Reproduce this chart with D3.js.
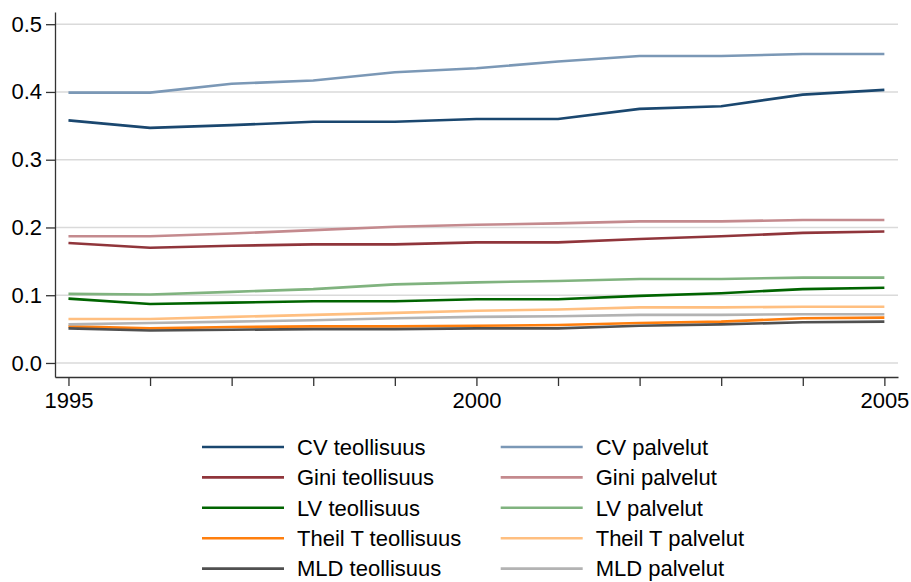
<!DOCTYPE html>
<html>
<head>
<meta charset="utf-8">
<script src="https://cdn.jsdelivr.net/npm/d3@7"></script>
<style>
  body { margin: 0; background: #fff; }
  text { font-family: "Liberation Sans", Arial, sans-serif; fill: #000; }
</style>
</head>
<body>
<div id="chart"></div>
<script>
// data
var years = [1995, 1996, 1997, 1998, 1999, 2000, 2001, 2002, 2003, 2004, 2005];
var yTicks = [0, 0.1, 0.2, 0.3, 0.4, 0.5];
var xLabelYears = [1995, 2000, 2005];

var cvTeollisuus = [0.358, 0.347, 0.351, 0.356, 0.356, 0.360, 0.360, 0.375, 0.379, 0.396, 0.403];
var cvPalvelut = [0.399, 0.399, 0.412, 0.417, 0.429, 0.435, 0.445, 0.453, 0.453, 0.456, 0.456];
var giniTeollisuus = [0.177, 0.170, 0.173, 0.175, 0.175, 0.178, 0.178, 0.183, 0.187, 0.192, 0.194];
var giniPalvelut = [0.187, 0.187, 0.191, 0.196, 0.201, 0.204, 0.206, 0.209, 0.209, 0.211, 0.211];
var lvTeollisuus = [0.095, 0.087, 0.089, 0.091, 0.091, 0.094, 0.094, 0.099, 0.103, 0.109, 0.111];
var lvPalvelut = [0.102, 0.101, 0.105, 0.109, 0.116, 0.119, 0.121, 0.124, 0.124, 0.126, 0.126];
var theilTeollisuus = [0.054, 0.051, 0.053, 0.054, 0.054, 0.055, 0.056, 0.059, 0.061, 0.066, 0.067];
var theilPalvelut = [0.065, 0.065, 0.068, 0.071, 0.074, 0.077, 0.079, 0.082, 0.082, 0.083, 0.083];
var mldTeollisuus = [0.051, 0.048, 0.049, 0.050, 0.050, 0.051, 0.051, 0.055, 0.057, 0.060, 0.061];
var mldPalvelut = [0.057, 0.059, 0.061, 0.063, 0.066, 0.068, 0.069, 0.071, 0.071, 0.072, 0.072];

var seriesNames = ["CV teollisuus", "CV palvelut", "Gini teollisuus", "Gini palvelut",
    "LV teollisuus", "LV palvelut", "Theil T teollisuus", "Theil T palvelut",
    "MLD teollisuus", "MLD palvelut"];
var seriesValues = [cvTeollisuus, cvPalvelut, giniTeollisuus, giniPalvelut,
    lvTeollisuus, lvPalvelut, theilTeollisuus, theilPalvelut, mldTeollisuus, mldPalvelut];
var seriesColors = ["#1a476f", "#7b98b6", "#90353b", "#c48a8e", "#006400", "#80b37f",
    "#ff7f0e", "#ffbf80", "#505050", "#b3b3b3"];

var width = 911, height = 582,
    fontSize = 22;

var svg = d3.select("#chart").append("svg")
    .attr("width", width)
    .attr("height", height);

// plot region is 55..898 x 12..377
var x = d3.scaleLinear().domain([1994.835, 2005.167]).range([55, 898]);
var y = d3.scaleLinear().domain([-0.0207, 0.518]).range([377, 12]);

// gridlines
svg.append("g").selectAll("line")
    .data(yTicks)
    .enter().append("line")
        .attr("x1", 55)
        .attr("x2", 898)
        .attr("y1", function(d) { return y(d); })
        .attr("y2", function(d) { return y(d); })
        .attr("stroke", "#dadada")
        .attr("stroke-width", 1.5);

var yAxis = svg.append("g")
    .attr("transform", "translate(55,0)")
    .call(d3.axisLeft(y).tickValues(yTicks).tickSize(9).tickPadding(4).tickSizeOuter(0)
        .tickFormat(d3.format(".1f")));

var xAxis = svg.append("g")
    .attr("transform", "translate(0,377)")
    .call(d3.axisBottom(x).tickValues(years).tickSize(9).tickPadding(6).tickSizeOuter(0)
        .tickFormat(function(d) { return xLabelYears.indexOf(d) >= 0 ? d : ""; }));

[yAxis, xAxis].forEach(function(ax) {
    ax.selectAll("path, line").attr("stroke", "#333").attr("stroke-width", 1.3);
    ax.selectAll("text").style("font-size", fontSize + "px").attr("fill", "#000");
});

var line = d3.line()
    .x(function(d, i) { return x(years[i]); })
    .y(function(d) { return y(d); });

svg.append("g").selectAll("path")
    .data(seriesValues)
    .enter().append("path")
        .attr("d", line)
        .attr("fill", "none")
        .attr("stroke", function(d, i) { return seriesColors[i]; })
        .attr("stroke-width", 2.6)
        .attr("stroke-linejoin", "round");

// legend, two columns filled row by row
var legend = svg.append("g").selectAll("g")
    .data(seriesNames)
    .enter().append("g")
        .attr("transform", function(d, i) {
            var col = i % 2, row = Math.floor(i / 2);
            return "translate(" + (col ? 500.7 : 202) + "," + (447 + row * 30.4) + ")";
        });

legend.append("line")
    .attr("x1", 0)
    .attr("x2", 82)
    .attr("stroke", function(d, i) { return seriesColors[i]; })
    .attr("stroke-width", 2.6);

legend.append("text")
    .attr("x", 95)
    .attr("y", 7.8)
    .style("font-size", fontSize + "px")
    .text(function(d) { return d; });
</script>
</body>
</html>
